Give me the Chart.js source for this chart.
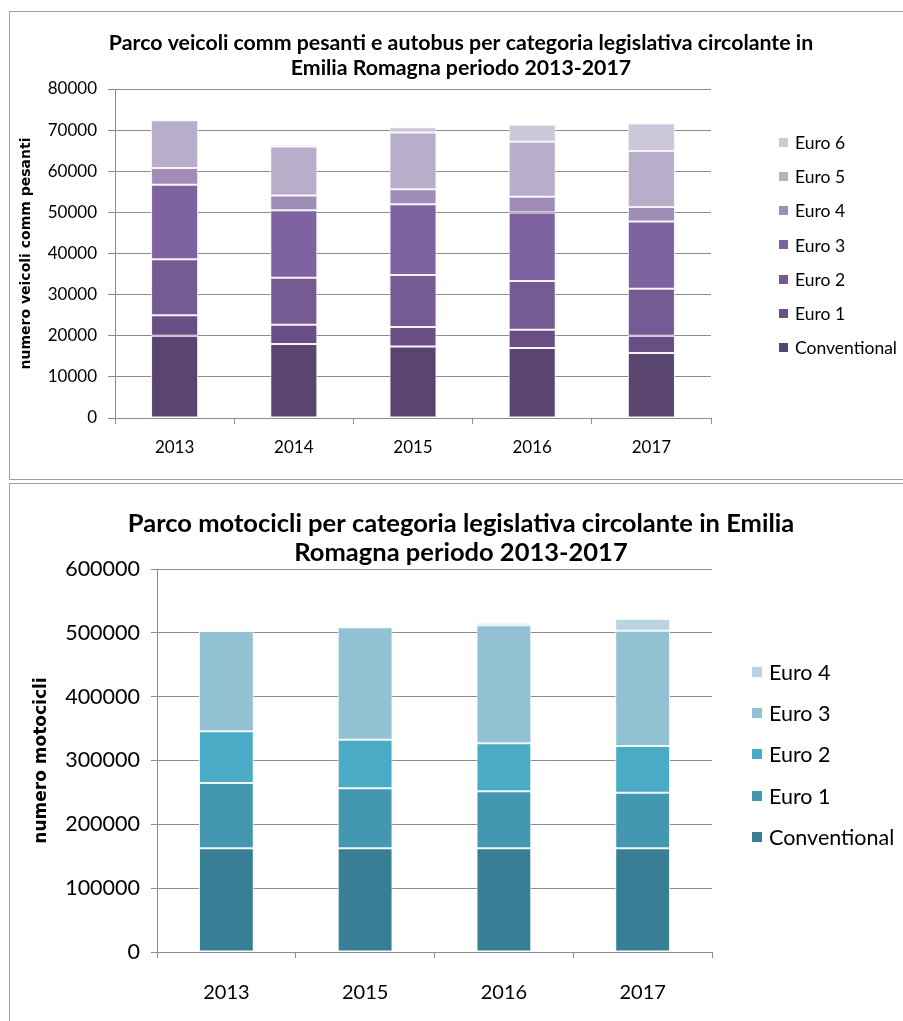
<!DOCTYPE html>
<html><head><meta charset="utf-8">
<script src="https://cdn.jsdelivr.net/npm/chart.js@4.4.1/dist/chart.umd.min.js"></script>
<style>
html,body{margin:0;padding:0;background:#fff;width:903px;height:1021px;overflow:hidden;}
.panel{position:absolute;border:1px solid #a0a0a0;box-sizing:border-box;}
#p1{left:9px;top:11px;width:910px;height:469px;}
#p2{left:9px;top:483px;width:910px;height:560px;}
canvas{position:absolute;left:0;}
#c1{top:0;} #c2{top:480px;}
</style></head><body>
<div class="panel" id="p1"></div><div class="panel" id="p2"></div>
<canvas id="c1" width="903" height="480"></canvas>
<canvas id="c2" width="903" height="541"></canvas>
<script>
// ---------- Chart 1 data: veicoli commerciali pesanti e autobus ----------
const years1 = ['2013', '2014', '2015', '2016', '2017'];
const conventional1 = [20000, 18000, 17400, 17000, 15800];
const euro1_1 = [5000, 4700, 4700, 4450, 4200];
const euro2_1 = [13600, 11400, 12700, 11850, 11400];
const euro3_1 = [18100, 16400, 17150, 16700, 16400];
const euro4_1 = [4100, 3600, 3650, 3800, 3500];
const euro5_1 = [11600, 11900, 13800, 13350, 13650];
const euro6_1 = [0, 400, 1300, 4150, 6650];
const yTickMax1 = 80000, yTickStep1 = 10000;
const title1 = ['Parco veicoli comm pesanti e autobus per categoria legislativa circolante in', 'Emilia Romagna periodo 2013-2017'];
const yTitle1 = 'numero veicoli comm pesanti';

// ---------- Chart 2 data: motocicli ----------
const years2 = ['2013', '2015', '2016', '2017'];
const conventional2 = [162400, 162400, 162400, 162400];
const euro1_2 = [102300, 94000, 89300, 87200];
const euro2_2 = [81000, 76200, 75200, 73100];
const euro3_2 = [156700, 176000, 184800, 180700];
const euro4_2 = [0, 0, 3700, 18300];
const yTickMax2 = 600000, yTickStep2 = 100000;
const title2 = ['Parco motocicli per categoria legislativa circolante in Emilia', 'Romagna periodo 2013-2017'];
const yTitle2 = 'numero motocicli';

const F = 'Lato';
const GRID = '#8c8c8c';

const sideLegend = {
  id: 'sideLegend',
  afterDraw(chart, args, o) {
    const ctx = chart.ctx, ds = chart.data.datasets;
    ctx.save();
    ctx.font = o.font;
    ctx.textBaseline = 'middle';
    ctx.textAlign = 'left';
    for (let i = 0; i < ds.length; i++) {
      const d = ds[ds.length - 1 - i];
      const y = o.top + i * o.step;
      ctx.fillStyle = d.backgroundColor;
      ctx.fillRect(o.boxX, Math.round(y - o.box / 2), o.box, o.box);
      ctx.fillStyle = '#000';
      ctx.fillText(d.label, o.textX, y + 1);
    }
    ctx.restore();
  }
};

function ds(label, data, color, border) {
  return { label, data, backgroundColor: color, borderColor: border, borderWidth: 1, borderSkipped: false,
           categoryPercentage: 1, barPercentage: 0.395 };
}

function makeChart(id, cfg) {
  return new Chart(document.getElementById(id), {
    type: 'bar',
    data: { labels: cfg.labels, datasets: cfg.datasets },
    plugins: [sideLegend],
    options: {
      responsive: false, animation: false, devicePixelRatio: 1,
      layout: { padding: { top: cfg.padTop, left: 19, right: 0, bottom: 0 } },
      plugins: {
        legend: { display: false }, tooltip: { enabled: false },
        title: { display: true, text: cfg.title, color: '#000',
                 font: { family: F, size: cfg.titleSize, weight: 'bold', lineHeight: cfg.titleLH + 'px' },
                 padding: { top: cfg.titlePadTop, bottom: cfg.titlePadBottom } },
        sideLegend: cfg.legend
      },
      scales: {
        x: { stacked: true, offset: true,
             grid: { display: true, drawOnChartArea: false, drawTicks: true, tickLength: 6, color: GRID, offset: true },
             border: { display: true, color: GRID, width: 1 },
             ticks: { color: '#000', font: { family: F, size: cfg.tickSize }, padding: cfg.xPad, maxRotation: 0 },
             afterFit: s => { s.height = cfg.xHeight; } },
        y: { stacked: true, min: 0, max: cfg.yMax,
             ticks: { stepSize: cfg.yStep, color: '#000', font: { family: F, size: cfg.yTickSize }, padding: 11,
                      callback: v => String(v) },
             grid: { color: GRID, tickLength: cfg.yTickLen },
             border: { display: true, color: GRID, width: 1 },
             title: { display: true, text: cfg.yTitle, color: '#000',
                      font: { family: 'DejaVu Sans', size: cfg.yTitleSize, weight: 'bold' },
                      padding: { top: cfg.yTitlePad, bottom: 0 } },
             afterFit: s => { s.width = cfg.yWidth; } },
        yRight: { type: 'linear', position: 'right', display: true,
                  grid: { display: false }, ticks: { display: false }, border: { display: false },
                  afterFit: s => { s.width = cfg.rightWidth; } }
      }
    }
  });
}

const W = '#f4f1f7';
makeChart('c1', {
  labels: years1,
  datasets: [
    ds('Conventional', conventional1, '#5a4571', W),
    ds('Euro 1', euro1_1, '#684e85', W),
    ds('Euro 2', euro2_1, '#755a93', W),
    ds('Euro 3', euro3_1, '#7f62a0', W),
    ds('Euro 4', euro4_1, '#a08db7', W),
    ds('Euro 5', euro5_1, '#b9aec9', W),
    ds('Euro 6', euro6_1, '#cdc8da', W)
  ],
  title: title1, titleSize: 21.3, titleLH: 25, titlePadTop: 19, titlePadBottom: 8, padTop: 12,
  tickSize: 17, yTickSize: 17, xPad: 13, xHeight: 62, yMax: yTickMax1, yStep: yTickStep1, yTickLen: 7,
  yTitle: yTitle1, yTitleSize: 14, yTitlePad: -1, yWidth: 96, rightWidth: 192,
  legend: { font: '17.5px Lato', boxX: 779, box: 9, textX: 795, top: 142, step: 34.3 }
});

const WB = '#f0f8fb';
makeChart('c2', {
  labels: years2,
  datasets: [
    ds('Conventional', conventional2, '#387f95', WB),
    ds('Euro 1', euro1_2, '#4397b0', WB),
    ds('Euro 2', euro2_2, '#4aabc6', WB),
    ds('Euro 3', euro3_2, '#93c1d4', WB),
    ds('Euro 4', euro4_2, '#b9d5e1', WB)
  ],
  title: title2, titleSize: 25.5, titleLH: 29, titlePadTop: 19.5, titlePadBottom: 1.5, padTop: 10,
  tickSize: 20, yTickSize: 21.5, xPad: 23, xHeight: 69, yMax: yTickMax2, yStep: yTickStep2, yTickLen: 6,
  yTitle: yTitle2, yTitleSize: 17, yTitlePad: 12, yWidth: 138, rightWidth: 191,
  legend: { font: '21.5px Lato', boxX: 752, box: 10, textX: 769, top: 192, step: 41.2 }
});
</script>
</body></html>
